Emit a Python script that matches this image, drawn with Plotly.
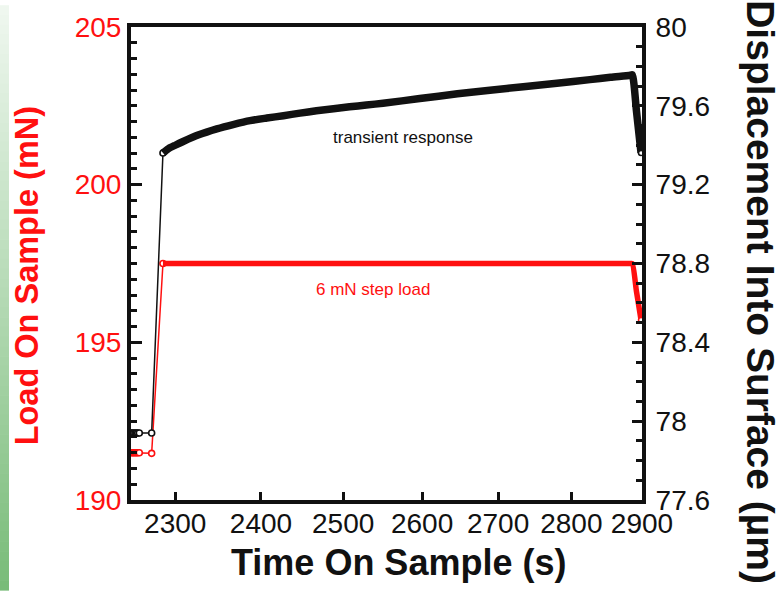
import plotly.graph_objects as go

# Nanoindentation hold: time on sample, load and displacement readings
time_s = [2250, 2251.5, 2253, 2254.5, 2256, 2257.5, 2259.3, 2273.2,
          2286, 2292, 2300, 2309, 2327, 2348, 2367, 2387, 2407, 2427,
          2447, 2467, 2488, 2508, 2529, 2550, 2597, 2646, 2689, 2734,
          2780, 2826, 2855, 2883, 2886, 2892, 2898.6]

load_mN = [191.5, 191.5, 191.5, 191.5, 191.5, 191.5, 191.5, 191.48,
           197.5, 197.5, 197.5, 197.5, 197.5, 197.5, 197.5, 197.5, 197.5, 197.5,
           197.5, 197.5, 197.5, 197.5, 197.5, 197.5, 197.5, 197.5, 197.5, 197.5,
           197.5, 197.5, 197.5, 197.5, 197.5, 196.62, 195.71]

disp_um = [77.94, 77.94, 77.94, 77.94, 77.94, 77.94, 77.94, 77.94,
           79.361, 79.382, 79.400, 79.419, 79.453, 79.483, 79.505, 79.525, 79.538, 79.550,
           79.563, 79.575, 79.585, 79.595, 79.604, 79.613, 79.637, 79.661, 79.679, 79.697,
           79.715, 79.733, 79.745, 79.755, 79.757, 79.575, 79.361]

x_ticks = [2300, 2400, 2500, 2600, 2700, 2800, 2900]
load_ticks = [190, 195, 200, 205]
disp_ticks = [77.6, 78, 78.4, 78.8, 79.2, 79.6, 80]
disp_ticktext = ["77.6", "78", "78.4", "78.8", "79.2", "79.6", "80"]

RED = "#ff1010"
BLACK = "#111111"
FONT = "Liberation Sans, Arial, sans-serif"

# index where the step load reaches its hold level
hold_i = 8

fig = go.Figure()


def add_series(y, color, width, axis):
    # sparse readings before and during the step
    fig.add_trace(go.Scatter(
        x=time_s[:hold_i + 1], y=y[:hold_i + 1], yaxis=axis, mode="lines+markers",
        line=dict(color=color, width=1.5),
        marker=dict(size=6, color="white", line=dict(color=color, width=1.6)),
        showlegend=False, hoverinfo="skip"))
    # dense hold and unload readings
    fig.add_trace(go.Scatter(
        x=time_s[hold_i:], y=y[hold_i:], yaxis=axis, mode="lines",
        line=dict(color=color, width=width, shape="spline", smoothing=0.6),
        showlegend=False, hoverinfo="skip"))
    # final reading
    fig.add_trace(go.Scatter(
        x=time_s[-1:], y=y[-1:], yaxis=axis, mode="markers",
        marker=dict(size=5, color="white", line=dict(color=color, width=1.5)),
        showlegend=False, hoverinfo="skip"))


add_series(load_mN, RED, 5.5, "y")
add_series(disp_um, BLACK, 7.5, "y2")

L, R, T, B = 131, 135, 22, 91
W, H = 777, 591
pw, ph = W - L - R, H - T - B

# green gradient strip on the left edge
shapes = []
n = 60
top_c = (240, 247, 240)
bot_c = (120, 188, 120)
for k in range(n):
    f = (k + 0.5) / n
    c = tuple(int(round(top_c[j] + (bot_c[j] - top_c[j]) * f)) for j in range(3))
    y_top = H * k / n
    y_bot = H * (k + 1) / n + 0.6
    shapes.append(dict(
        type="rect", xref="paper", yref="paper", layer="below",
        x0=(0 - L) / pw, x1=(9 - L) / pw,
        y0=(H - B - y_bot) / ph, y1=(H - B - y_top) / ph,
        line=dict(width=0), fillcolor="rgb(%d,%d,%d)" % c))


def px(x, y):
    return (x - L) / pw, (H - B - y) / ph


def label(text, x, y, size, color, angle=0):
    ax, ay = px(x, y)
    return dict(text=text, x=ax, y=ay, xref="paper", yref="paper",
                xanchor="center", yanchor="middle", showarrow=False,
                textangle=angle, font=dict(size=size, color=color, family=FONT))


annotations = [
    label("transient response", 402.5, 134, 17, BLACK),
    label("6 mN step load", 373, 287.5, 17, RED),
    label("<b>Load On Sample (mN)</b>", 27, 274, 32.5, RED, -90),
    label("<b>Displacement Into Surface (µm)</b>", 761, 290, 39, BLACK, 90),
    label("<b>Time On Sample (s)</b>", 398, 563, 36, BLACK),
]

fig.update_layout(
    width=W, height=H,
    margin=dict(l=L, r=R, t=T, b=B, pad=0),
    paper_bgcolor="white", plot_bgcolor="white",
    font=dict(family=FONT, size=28, color=BLACK),
    shapes=shapes, annotations=annotations,
    xaxis=dict(
        type="log", range=[3.352183, 3.462398],
        tickvals=x_ticks, ticktext=[str(v) for v in x_ticks],
        ticks="inside", ticklen=8, tickwidth=2.5, tickcolor=BLACK,
        showline=True, linewidth=4, linecolor=BLACK, mirror=True,
        showgrid=False, zeroline=False,
        tickfont=dict(size=28, color=BLACK), ticklabelstandoff=-5),
    yaxis=dict(
        range=[190, 205], tickvals=load_ticks,
        ticks="inside", ticklen=11, tickwidth=2.5, tickcolor=BLACK,
        minor=dict(dtick=0.5, tick0=190, ticks="inside", ticklen=6, tickwidth=2.5,
                   tickcolor=BLACK, showgrid=False),
        showline=True, linewidth=4, linecolor=BLACK,
        showgrid=False, zeroline=False,
        tickfont=dict(size=28, color=RED), ticklabelstandoff=0),
    yaxis2=dict(
        overlaying="y", side="right",
        range=[77.6, 80], tickvals=disp_ticks, ticktext=disp_ticktext,
        ticks="inside", ticklen=10, tickwidth=2.5, tickcolor=BLACK,
        minor=dict(dtick=0.1, tick0=77.6, ticks="inside", ticklen=6, tickwidth=2.5,
                   tickcolor=BLACK, showgrid=False),
        showline=True, linewidth=4, linecolor=BLACK,
        showgrid=False, zeroline=False,
        tickfont=dict(size=28, color=BLACK), ticklabelstandoff=4),
)

fig.write_html("out.html")
